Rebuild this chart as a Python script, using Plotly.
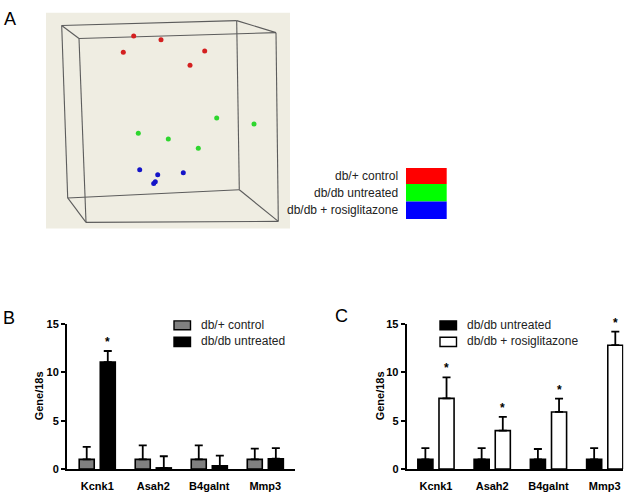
import plotly.graph_objects as go

W, H = 638, 497


def px(x):
    return x / W


def py(y):
    return 1 - y / H


# ---------------- Panel A: projected PCA coordinates ----------------
pca_groups = ["db/+ control", "db/db untreated", "db/db + rosiglitazone"]
pca_control_x = [133.7, 161.0, 123.3, 204.7, 190.0]
pca_control_y = [30.7, 34.7, 47.3, 46.0, 60.7]
pca_untreated_x = [216.7, 254.0, 138.3, 168.3, 198.3]
pca_untreated_y = [114.7, 121.0, 130.3, 136.3, 145.7]
pca_rosi_x = [139.7, 157.7, 183.3, 155.3, 153.7]
pca_rosi_y = [167.7, 173.0, 171.0, 180.0, 182.0]
# projected corners of the 3-D bounding box (back face then front face)
box_corner_x = [61.7, 236.7, 239.3, 67.7, 79.0, 276.0, 278.3, 86.0]
box_corner_y = [20.0, 15.0, 188.3, 196.7, 33.3, 27.3, 220.7, 221.7]
box_edges = [(0, 1), (1, 2), (2, 3), (3, 0), (4, 5), (5, 6), (6, 7), (7, 4),
             (0, 4), (1, 5), (2, 6), (3, 7)]

# ---------------- Panels B and C: qPCR ----------------
genes = ["Kcnk1", "Asah2", "B4galnt", "Mmp3"]
b_control = [1.0, 1.0, 1.0, 1.0]
b_control_err = [1.3, 1.45, 1.45, 1.1]
b_untreated = [11.05, 0.12, 0.33, 1.07]
b_untreated_err = [1.15, 1.2, 1.05, 1.1]
b_sig = [True, False, False, False]

c_untreated = [1.0, 1.0, 1.0, 1.0]
c_untreated_err = [1.17, 1.17, 1.07, 1.17]
c_rosi = [7.3, 3.97, 5.9, 12.8]
c_rosi_err = [2.17, 1.43, 1.37, 1.4]
c_sig = [True, True, True, True]

FONT = "Arial, 'Liberation Sans', sans-serif"
BAR_W = 0.268
OFF_L = -0.322
OFF_R = 0.054

fig = go.Figure()

# ---- Panel A traces ----
ex, ey = [], []
for a, b in box_edges:
    ex += [box_corner_x[a], box_corner_x[b], None]
    ey += [box_corner_y[a], box_corner_y[b], None]
fig.add_trace(go.Scatter(x=ex, y=ey, mode="lines", line=dict(color="#5c5c5c", width=1.1),
                         xaxis="x3", yaxis="y3", showlegend=False, hoverinfo="skip"))
for xs, ys, col, name in [(pca_control_x, pca_control_y, "#d42020", pca_groups[0]),
                          (pca_untreated_x, pca_untreated_y, "#2ed62e", pca_groups[1]),
                          (pca_rosi_x, pca_rosi_y, "#1414c8", pca_groups[2])]:
    fig.add_trace(go.Scatter(x=xs, y=ys, mode="markers", name=name,
                             marker=dict(color=col, size=5),
                             xaxis="x3", yaxis="y3", showlegend=False))


def add_bars(xa, ya, vals, errs, color, offset):
    fig.add_trace(go.Bar(
        x=list(range(len(genes))), y=vals, offset=offset, width=BAR_W,
        marker=dict(color=color, line=dict(color="black", width=1.6)),
        error_y=dict(type="data", array=errs, arrayminus=[0] * len(errs), symmetric=False,
                     color="black", thickness=1.8, width=4),
        xaxis=xa, yaxis=ya, showlegend=False))


add_bars("x", "y", b_control, b_control_err, "#808080", OFF_L)
add_bars("x", "y", b_untreated, b_untreated_err, "black", OFF_R)
add_bars("x2", "y2", c_untreated, c_untreated_err, "black", OFF_L)
add_bars("x2", "y2", c_rosi, c_rosi_err, "white", OFF_R)

annotations = []
shapes = []

# asterisks
for i in range(len(genes)):
    if b_sig[i]:
        annotations.append(dict(x=i + OFF_R + BAR_W / 2, y=b_untreated[i] + b_untreated_err[i],
                                xref="x", yref="y", text="<b>*</b>", showarrow=False,
                                yanchor="bottom", yshift=0, font=dict(family=FONT, size=12, color="black")))
    if c_sig[i]:
        annotations.append(dict(x=i + OFF_R + BAR_W / 2, y=c_rosi[i] + c_rosi_err[i],
                                xref="x2", yref="y2", text="<b>*</b>", showarrow=False,
                                yanchor="bottom", yshift=0, font=dict(family=FONT, size=12, color="black")))

# panel letters
for txt, x, y in [("A", 9.7, 13.5), ("B", 9.0, 320), ("C", 341.5, 317.5)]:
    annotations.append(dict(x=px(x), y=py(y), xref="paper", yref="paper", text=txt, showarrow=False,
                            xanchor="center", yanchor="middle", font=dict(family=FONT, size=18, color="black")))

# y titles
for x in [39, 380]:
    annotations.append(dict(x=px(x), y=py(400), xref="paper", yref="paper", text="<b>Gene/18s</b>",
                            textangle=-90, showarrow=False, xanchor="center", yanchor="middle",
                            font=dict(family=FONT, size=11, color="black")))

# Panel A background
shapes.append(dict(type="rect", xref="paper", yref="paper", x0=px(46), x1=px(290), y0=py(228), y1=py(7),
                   fillcolor="#efede2", line=dict(width=0), layer="below"))

# Panel A legend
for name, col, yc, y0, y1 in [(pca_groups[0], "#ff0000", 174, 166, 182.3),
                              (pca_groups[1], "#00ff00", 191.7, 182.3, 200.3),
                              (pca_groups[2], "#0000ff", 209, 200.3, 218.3)]:
    shapes.append(dict(type="rect", xref="paper", yref="paper", x0=px(406), x1=px(446.7),
                       y0=py(y1), y1=py(y0), fillcolor=col, line=dict(width=0)))
    annotations.append(dict(x=px(399.5), y=py(yc), xref="paper", yref="paper", text=name, showarrow=False,
                            xanchor="right", yanchor="middle", font=dict(family=FONT, size=12, color="#222")))

# Panel B / C legends
for sx, entries in [(174, [("db/+ control", "#808080"), ("db/db untreated", "black")]),
                    (440, [("db/db untreated", "black"), ("db/db + rosiglitazone", "white")])]:
    for (name, col), (y0, y1, yc) in zip(entries, [(322.7, 331.7, 326.7), (339.5, 349, 343.5)]):
        shapes.append(dict(type="rect", xref="paper", yref="paper", x0=px(sx), x1=px(sx + 16.5),
                           y0=py(y1), y1=py(y0), fillcolor=col, line=dict(color="black", width=1.4)))
        annotations.append(dict(x=px(sx + 25), y=py(yc), xref="paper", yref="paper", text=name,
                                showarrow=False, xanchor="left", yanchor="middle",
                                font=dict(family=FONT, size=12, color="#222")))

xax = dict(showline=True, linewidth=2, linecolor="black", showgrid=False, zeroline=False,
           tickvals=list(range(len(genes))), ticktext=genes, ticks="outside", ticklen=6,
           tickcolor="rgba(0,0,0,0)", tickfont=dict(family=FONT, size=11, color="black", weight="bold"))
yax = dict(showline=True, linewidth=2, linecolor="black", showgrid=False, zeroline=False,
           range=[0, 15], tickvals=[0, 5, 10, 15], ticks="outside", ticklen=4, tickwidth=2,
           tickcolor="black", tickfont=dict(family=FONT, size=11, color="black", weight="bold"))

fig.update_layout(
    width=W, height=H, margin=dict(l=0, r=0, t=0, b=0),
    paper_bgcolor="white", plot_bgcolor="rgba(0,0,0,0)",
    xaxis=dict(xax, domain=[px(67), px(295)], range=[-0.54, 3.53], anchor="y"),
    yaxis=dict(yax, domain=[py(474.5), py(325.8)], anchor="x"),
    xaxis2=dict(xax, domain=[px(406.7), px(623.3)], range=[-0.52, 3.33], anchor="y2"),
    yaxis2=dict(yax, domain=[py(474.5), py(325.8)], anchor="x2"),
    xaxis3=dict(domain=[px(46), px(290)], range=[46, 290], visible=False, anchor="y3"),
    yaxis3=dict(domain=[py(228), py(7)], range=[228, 7], visible=False, anchor="x3"),
    annotations=annotations, shapes=shapes, showlegend=False,
)

fig.write_html("out.html", config={"displayModeBar": False},
               post_script="document.body.style.margin='0px';document.body.style.overflow='hidden';")
